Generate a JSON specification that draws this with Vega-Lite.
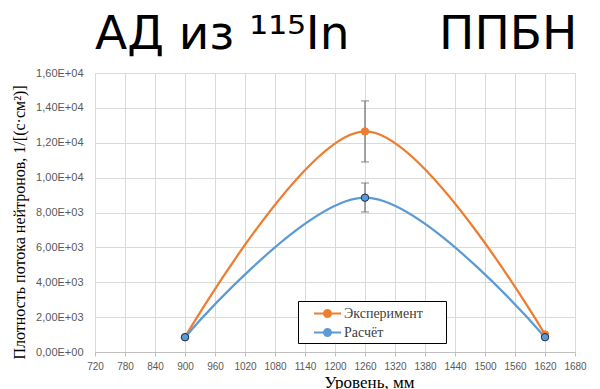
{
  "$schema": "https://vega.github.io/schema/vega-lite/v6.json",
  "width": 480,
  "height": 279,
  "autosize": "none",
  "padding": {"left": 95, "top": 73, "right": 25, "bottom": 37},
  "background": "white",
  "title": {
    "text": "АД из ¹¹⁵In\u00a0\u00a0\u00a0\u00a0\u00a0\u00a0ППБН",
    "font": "DejaVu Sans",
    "fontSize": 47,
    "fontWeight": "normal",
    "color": "black",
    "anchor": "start",
    "frame": "group",
    "offset": 8
  },
  "data": {
    "values": [
      {"level": 900, "flux": 850, "series": "Эксперимент"},
      {"level": 1260, "flux": 12650, "series": "Эксперимент", "lo": 10900, "hi": 14400},
      {"level": 1620, "flux": 1000, "series": "Эксперимент"},
      {"level": 900, "flux": 850, "series": "Расчёт"},
      {"level": 1260, "flux": 8850, "series": "Расчёт", "lo": 8030, "hi": 9690},
      {"level": 1620, "flux": 850, "series": "Расчёт"}
    ]
  },
  "encoding": {
    "x": {
      "field": "level",
      "type": "quantitative",
      "scale": {"domain": [720, 1680], "nice": false, "zero": false},
      "axis": {
        "values": [720, 780, 840, 900, 960, 1020, 1080, 1140, 1200, 1260, 1320, 1380, 1440, 1500, 1560, 1620, 1680],
        "labelExpr": "'' + datum.value",
        "labelOverlap": false,
        "labelFlush": false,
        "title": "Уровень, мм",
        "titleFont": "Liberation Serif",
        "titleFontSize": 17,
        "titleFontWeight": "normal",
        "titleColor": "#000000",
        "titleX": 274,
        "titlePadding": 3,
        "labelFont": "Liberation Sans",
        "labelFontSize": 10,
        "labelColor": "#595959",
        "labelPadding": 5,
        "grid": true,
        "gridColor": "#d9d9d9",
        "domainColor": "#bfbfbf",
        "tickColor": "#bfbfbf",
        "tickSize": 4
      }
    },
    "y": {
      "field": "flux",
      "type": "quantitative",
      "title": "Плотность потока нейтронов, 1/[(с·см²)]",
      "scale": {"domain": [0, 16000], "nice": false},
      "axis": {
        "values": [0, 2000, 4000, 6000, 8000, 10000, 12000, 14000, 16000],
        "labelExpr": "datum.value == 0 ? '0,00E+00' : replace(format(datum.value / pow(10, floor(log(datum.value) / LN10 + 1e-9)), '.2f'), '.', ',') + 'E+0' + floor(log(datum.value) / LN10 + 1e-9)",
        "labelOverlap": false,
        "labelFlush": false,
        "titleFont": "Liberation Serif",
        "titleFontSize": 16,
        "titleFontWeight": "normal",
        "titleColor": "#000000",
        "titlePadding": 8,
        "titleY": 149,
        "labelFont": "Liberation Sans",
        "labelFontSize": 11,
        "labelColor": "#595959",
        "labelPadding": 12,
        "ticks": false,
        "domain": false,
        "grid": true,
        "gridColor": "#d9d9d9"
      }
    },
    "color": {
      "field": "series",
      "type": "nominal",
      "scale": {"domain": ["Эксперимент", "Расчёт"], "range": ["#ED7D31", "#5B9BD5"]},
      "legend": {
        "orient": "none",
        "legendX": 203,
        "legendY": 228,
        "title": null,
        "symbolType": "M-1.6,0H1.6M-0.41,0A0.41,0.41 0 1,0 0.41,0A0.41,0.41 0 1,0 -0.41,0Z",
        "symbolSize": 289,
        "symbolStrokeWidth": 2,
        "symbolOffset": 17,
        "labelOffset": 7,
        "labelExpr": "datum.label + '\u2800\u2800'",
        "labelFont": "Liberation Serif",
        "labelFontSize": 14,
        "labelColor": "#404040",
        "strokeColor": "#000000",
        "fillColor": "white",
        "padding": 3,
        "rowPadding": 2
      }
    }
  },
  "layer": [
    {
      "mark": {"type": "line", "interpolate": "cardinal", "strokeWidth": 2.25}
    },
    {
      "transform": [{"filter": "isValid(datum.lo)"}],
      "mark": {
        "type": "rule",
        "color": "#737373",
        "strokeWidth": 1.25
      },
      "encoding": {
        "y": {"field": "lo", "type": "quantitative"},
        "y2": {"field": "hi"},
        "color": {"value": "#737373"}
      }
    },
    {
      "transform": [{"filter": "isValid(datum.lo)"}],
      "mark": {"type": "tick", "orient": "horizontal", "size": 8, "thickness": 1.25, "color": "#737373"},
      "encoding": {
        "y": {"field": "lo", "type": "quantitative"},
        "color": {"value": "#737373"}
      }
    },
    {
      "transform": [{"filter": "isValid(datum.lo)"}],
      "mark": {"type": "tick", "orient": "horizontal", "size": 8, "thickness": 1.25, "color": "#737373"},
      "encoding": {
        "y": {"field": "hi", "type": "quantitative"},
        "color": {"value": "#737373"}
      }
    },
    {
      "mark": {"type": "point", "filled": true, "size": 55, "opacity": 1, "strokeWidth": 1},
      "encoding": {
        "stroke": {
          "field": "series",
          "type": "nominal",
          "scale": {"domain": ["Эксперимент", "Расчёт"], "range": ["#ED7D31", "#1f2d4a"]},
          "legend": null
        }
      }
    }
  ],
  "config": {
    "view": {"stroke": null},
    "axis": {"labelOverlap": false}
  }
}
